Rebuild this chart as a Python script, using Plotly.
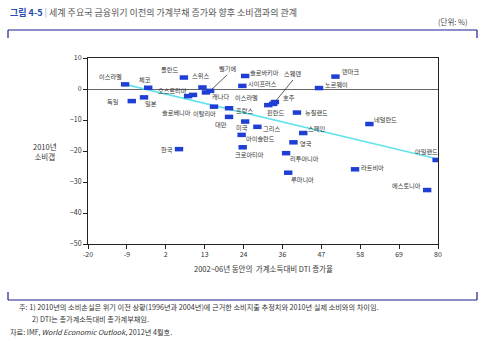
import plotly.graph_objects as go

# ---- data -------------------------------------------------------------
countries = [
    "이스라엘", "체코", "독일", "일본", "폴란드", "스위스", "벨기에", "캐나다",
    "오스트리아", "슬로베니아", "슬로바키아", "시이프러스", "스웨덴", "호주", "핀란드",
    "덴마크", "노르웨이", "뉴질랜드", "이탈리아", "프랑스", "대만", "미국",
    "그리스", "아이슬란드", "스페인", "영국", "크로아티아", "리투아니아",
    "루마니아", "한국", "네덜란드", "아일랜드", "라트비아", "에스토니아",
]
dti_change = [
    -9.4, -2.8, -7.5, -4.0, 7.4, 12.7, 14.9, 13.7,
    8.6, 10.0, 24.9, 24.1, 33.4, 32.9, 31.5,
    50.7, 46.0, 39.7, 16.0, 20.3, 20.3, 24.9,
    28.4, 23.9, 41.5, 38.7, 24.2, 36.6,
    37.2, 6.0, 60.4, 79.6, 56.3, 76.9,
]
consumption_gap = [
    1.5, 0.4, -3.9, -2.7, 3.7, 0.5, -0.6, -1.1,
    -2.3, -1.9, 4.2, 1.0, -4.2, -4.8, -5.2,
    4.0, 0.3, -7.6, -5.7, -6.2, -9.0, -10.5,
    -12.2, -14.8, -14.2, -17.2, -18.8, -20.7,
    -27.0, -19.4, -11.3, -22.9, -25.9, -32.6,
]
trend_x = [-9.4, 80.0]
trend_y = [1.5, -22.6]

x_tick_labels = ["-20", "-9", "2", "13", "24", "36", "47", "58", "69", "80"]
y_ticks = [10, 0, -10, -20, -30, -40, -50]

# ---- label placement (pixel offsets from each marker) -----------------
label_offsets = {
    "이스라엘": (-15, -8), "체코": (-3, -8), "독일": (-19, 0), "일본": (7, 6),
    "폴란드": (-14, -8), "스위스": (-2, -12), "캐나다": (15, 4),
    "오스트리아": (-16, -6), "슬로베니아": (-17, 18), "이탈리아": (-10, 7),
    "슬로바키아": (19, -3), "시이프러스": (20, -2), "호주": (16, -6),
    "핀란드": (7, 7), "덴마크": (15, -5), "노르웨이": (17, -4),
    "뉴질랜드": (20, 0), "프랑스": (15, 2), "대만": (-8, 8),
    "미국": (-3, 6), "그리스": (14, 2), "아이슬란드": (19, 4), "스페인": (13, -5),
    "영국": (13, 1), "크로아티아": (7, 7), "리투아니아": (18, 5),
    "루마니아": (14, 7), "한국": (-12, 0), "네덜란드": (16, -5),
    "아일랜드": (-10, -8), "라트비아": (17, -2), "에스토니아": (-21, -5),
}
# second caption sitting beside the 프랑스 marker
extra_labels = [("프랑스", "이스라엘", 17, -11)]
leader_labels = {"벨기에": (17, -16), "스웨덴": (18, -22)}

FONT = "Noto Sans CJK KR"
LABEL_FONT = dict(family=FONT, size=6.2, color="#333")
W, H = 485, 342
PL, PR, PT, PB = 88, 438, 58, 244   # plot box in pixels


def px(x):
    return (x - PL) / (PR - PL)


def py(y):
    return (PB - y) / (PB - PT)


fig = go.Figure()
fig.add_trace(go.Scatter(
    x=trend_x, y=trend_y, mode="lines",
    line=dict(color="#62e2ea", width=1.6), hoverinfo="skip",
))
# flat rectangular markers: a short horizontal stroke
fig.add_trace(go.Scatter(
    x=dti_change, y=consumption_gap, mode="markers",
    marker=dict(symbol="line-ew", size=6, color="#1f3fd4",
                line=dict(width=4.5, color="#1f3fd4")),
))


def plain_label(xv, yv, text, dx, dy):
    return dict(
        x=xv, y=yv, xref="x", yref="y", text=text, showarrow=True,
        arrowcolor="rgba(0,0,0,0)", ax=dx, ay=dy,
        font=LABEL_FONT, xanchor="center", yanchor="middle",
    )


annotations = []
lookup = {n: (xv, yv) for n, xv, yv in zip(countries, dti_change, consumption_gap)}
for name, (xv, yv) in lookup.items():
    if name in label_offsets:
        dx, dy = label_offsets[name]
        annotations.append(plain_label(xv, yv, name, dx, dy))
    elif name in leader_labels:
        dx, dy = leader_labels[name]
        annotations.append(dict(
            x=xv, y=yv, xref="x", yref="y", text=name, showarrow=True,
            arrowhead=0, arrowwidth=0.8, arrowcolor="#333", standoff=2,
            ax=dx, ay=dy, font=LABEL_FONT, xanchor="center", yanchor="bottom",
        ))
for anchor, text, dx, dy in extra_labels:
    xv, yv = lookup[anchor]
    annotations.append(plain_label(xv, yv, text, dx, dy))

# title, unit, axis titles, notes
annotations += [
    dict(x=px(8), y=py(12), xref="paper", yref="paper", showarrow=False,
         xanchor="left", yanchor="middle",
         text="<b><span style='color:#2b4cb3'>그림 4-5</span></b>"
              "<span style='color:#8fb0e0'> | </span>"
              "<span style='color:#555'>세계 주요국 금융위기 이전의 가계부채 증가와 향후 소비갭과의 관계</span>",
         font=dict(family=FONT, size=9)),
    dict(x=px(470), y=py(22), xref="paper", yref="paper", showarrow=False,
         xanchor="right", yanchor="middle", text="(단위: %)",
         font=dict(family=FONT, size=7.5, color="#444")),
    dict(x=px(45), y=py(151), xref="paper", yref="paper", showarrow=False,
         xanchor="center", yanchor="middle", text="2010년<br>소비갭",
         font=dict(family=FONT, size=7.5, color="#333")),
    dict(x=px(263), y=py(268), xref="paper", yref="paper", showarrow=False,
         xanchor="center", yanchor="middle",
         text="2002~06년 동안의  가계소득대비 DTI 증가율",
         font=dict(family=FONT, size=7.5, color="#333")),
    dict(x=px(17), y=py(307), xref="paper", yref="paper", showarrow=False,
         xanchor="left", yanchor="middle",
         text="주: 1) 2010년의 소비손실은 위기 이전 상황(1996년과 2004년)에 근거한 소비지출 추정치와 2010년 실제 소비와의 차이임.",
         font=dict(family=FONT, size=7.2, color="#333")),
    dict(x=px(30), y=py(319), xref="paper", yref="paper", showarrow=False,
         xanchor="left", yanchor="middle",
         text="2) DTI는 총가계소득대비 총가계부채임.",
         font=dict(family=FONT, size=7.2, color="#333")),
    dict(x=px(8), y=py(332), xref="paper", yref="paper", showarrow=False,
         xanchor="left", yanchor="middle",
         text="자료: IMF, <i>World Economic Outlook</i>, 2012년 4월호.",
         font=dict(family=FONT, size=7.2, color="#333")),
]

# bracket frame around the figure body
frame = "#1c1c94"


def seg(x0, y0, x1, y1):
    return dict(type="line", xref="paper", yref="paper",
                x0=px(x0), x1=px(x1), y0=py(y0), y1=py(y1),
                line=dict(color=frame, width=1.2))


shapes = [
    seg(8, 30, 477, 30), seg(8, 30, 8, 38), seg(477, 30, 477, 38),
    seg(8, 300, 477, 300), seg(8, 292, 8, 300), seg(477, 292, 477, 300),
]

fig.update_layout(
    width=W, height=H, showlegend=False,
    margin=dict(l=PL, r=W - PR, t=PT, b=H - PB),
    paper_bgcolor="white", plot_bgcolor="white",
    font=dict(family=FONT, size=7, color="#333"),
    annotations=annotations, shapes=shapes,
    xaxis=dict(
        range=[-20, 80], tickvals=[-20 + i * 100 / 9 for i in range(10)],
        ticktext=x_tick_labels, showgrid=False, zeroline=False,
        showline=True, mirror=True, linecolor="#222", linewidth=1,
        ticks="outside", ticklen=4, tickcolor="#222",
        tickfont=dict(family=FONT, size=7, color="#333"),
    ),
    yaxis=dict(
        range=[-50, 10], tickvals=y_ticks, showgrid=False,
        zeroline=True, zerolinecolor="#666", zerolinewidth=1,
        showline=True, mirror=True, linecolor="#222", linewidth=1,
        ticks="outside", ticklen=4, tickcolor="#222",
        tickfont=dict(family=FONT, size=7, color="#333"),
    ),
)

fig.write_html("out.html")
